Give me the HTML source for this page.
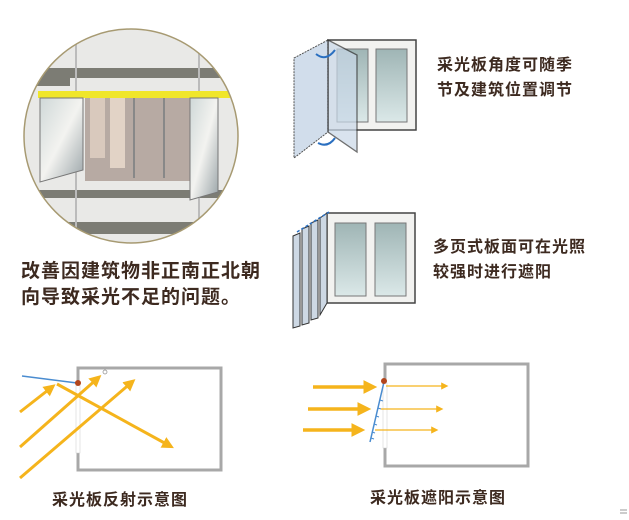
<!DOCTYPE html>
<html><head><meta charset="utf-8"><style>
body{margin:0;width:629px;height:520px;background:#fff;overflow:hidden;position:relative;font-family:"Liberation Sans","Noto Sans CJK SC",sans-serif}
.t{position:absolute;color:#3d2a20;white-space:nowrap;font-weight:bold}
</style></head><body>
<svg width="629" height="520" style="position:absolute;left:0;top:0">
<defs>
<clipPath id="c"><circle cx="131" cy="136" r="107"/></clipPath>
<marker id="ah" markerWidth="4" markerHeight="4" refX="2.5" refY="2" orient="auto" markerUnits="strokeWidth"><path d="M0,0L4,2L0,4z" fill="#f5b41c"/></marker>
<marker id="ah2" markerWidth="6" markerHeight="6" refX="4" refY="3" orient="auto" markerUnits="strokeWidth"><path d="M0,0L6,3L0,6z" fill="#f5b41c"/></marker>
<linearGradient id="g" x1="0" y1="0" x2="1" y2="1"><stop offset="0" stop-color="#cfd8d8"/><stop offset=".5" stop-color="#f3f3f0"/><stop offset="1" stop-color="#9aa4a8"/></linearGradient>
<linearGradient id="gl" x1="0" y1="0" x2="0" y2="1"><stop offset="0" stop-color="#9fb5b5"/><stop offset="1" stop-color="#dbe8e8"/></linearGradient>
</defs>
<g clip-path="url(#c)">
<rect x="20" y="25" width="230" height="225" fill="#e9e9e7"/>
<rect x="20" y="68" width="230" height="10" fill="#7c7c74"/>
<rect x="20" y="78" width="50" height="8" fill="#7c7c74"/>
<rect x="20" y="190" width="230" height="8" fill="#7c7c74"/>
<rect x="20" y="222" width="230" height="12" fill="#7c7c74"/>
<rect x="75" y="25" width="2" height="225" fill="#bbb"/>
<rect x="198" y="25" width="2" height="225" fill="#bbb"/>
<rect x="85" y="96" width="105" height="85" fill="#b7aaa3"/>
<rect x="90" y="98" width="15" height="60" fill="#d9c9bd"/>
<rect x="110" y="98" width="15" height="70" fill="#e2d3c6"/>
<rect x="133" y="98" width="2" height="80" fill="#888"/>
<rect x="163" y="98" width="2" height="80" fill="#888"/>
<rect x="38" y="91" width="192" height="7" fill="#f0e62a"/>
<polygon points="40,98 83,98 83,170 40,182" fill="url(#g)" stroke="#777"/>
<polygon points="190,98 218,98 218,192 190,200" fill="url(#g)" stroke="#777"/>
</g>
<circle cx="131" cy="136" r="107" fill="none" stroke="#a79a72" stroke-width="1.5"/>
<rect x="328" y="40" width="88" height="90" fill="#f2f2f0" stroke="#444" stroke-width="1.5"/>
<rect x="337" y="49" width="31" height="73" fill="url(#gl)" stroke="#777"/>
<rect x="376" y="49" width="31" height="73" fill="url(#gl)" stroke="#777"/>
<polygon points="294,58 328,40 328,132 294,158" fill="#c9d8e8" opacity=".85" stroke="#333" stroke-dasharray="2,1"/>
<polygon points="328,40 357,55 357,152 328,132" fill="#c9d8e8" opacity=".7" stroke="#333" stroke-width="1.3"/>
<path d="M316,54 Q326,62 335,50" fill="none" stroke="#2a6fc0" stroke-width="2"/>
<path d="M318,143 Q328,148 335,138" fill="none" stroke="#2a6fc0" stroke-width="2"/>
<rect x="327" y="213" width="88" height="90" fill="#f2f2f0" stroke="#444" stroke-width="1.5"/>
<rect x="335" y="223" width="31" height="73" fill="url(#gl)" stroke="#777"/>
<rect x="375" y="223" width="31" height="73" fill="url(#gl)" stroke="#777"/>
<g fill="#cdd8e4" stroke="#333">
<polygon points="293,236 300,233 300,326 293,328"/>
<polygon points="302,229 309,226 309,323 302,325"/>
<polygon points="311,223 318,220 318,318 311,320"/>
<polygon points="320,218 327,213 327,303 320,315"/>
</g>
<path d="M297,232 L329,212" stroke="#2a6fc0" stroke-width="1.5" stroke-dasharray="3,2"/>
<rect x="78" y="368" width="143" height="102" fill="none" stroke="#a8a8a8" stroke-width="3"/>
<rect x="76" y="383" width="4" height="70" fill="#fff" stroke="#ccc" stroke-width=".5"/>
<line x1="22" y1="376" x2="77" y2="383" stroke="#4a8cd0" stroke-width="1.5"/>
<g stroke="#f5b41c" stroke-width="3" fill="none">
<line x1="20" y1="412" x2="52" y2="387" marker-end="url(#ah)"/>
<line x1="20" y1="447" x2="98" y2="378" marker-end="url(#ah)"/>
<line x1="20" y1="478" x2="132" y2="382" marker-end="url(#ah)"/>
<line x1="57" y1="384" x2="170" y2="446" marker-end="url(#ah)"/>
</g>
<circle cx="105" cy="372" r="2" fill="#fff" stroke="#888" stroke-width=".7"/>
<circle cx="78" cy="383" r="3" fill="#b2451c"/>
<rect x="385" y="364" width="143" height="102" fill="none" stroke="#a8a8a8" stroke-width="3"/>
<rect x="383" y="383" width="4" height="65" fill="#fff" stroke="#ccc" stroke-width=".5"/>
<g stroke="#f5b41c" fill="none">
<line x1="313" y1="387" x2="372" y2="387" stroke-width="3.5" marker-end="url(#ah)"/>
<line x1="308" y1="409" x2="366" y2="409" stroke-width="3.5" marker-end="url(#ah)"/>
<line x1="303" y1="430" x2="360" y2="430" stroke-width="3.5" marker-end="url(#ah)"/>
<line x1="386" y1="386" x2="446" y2="386" stroke-width="1.2" marker-end="url(#ah2)"/>
<line x1="381" y1="409" x2="441" y2="409" stroke-width="1.2" marker-end="url(#ah2)"/>
<line x1="375" y1="430" x2="436" y2="430" stroke-width="1.2" marker-end="url(#ah2)"/>
</g>
<line x1="384" y1="382" x2="370" y2="442" stroke="#4a8cd0" stroke-width="1.5"/>
<path d="M380,400l3,1M378,408l3,1M376,416l3,1M374,424l3,1M372,432l3,1M371,438l3,1" stroke="#4a8cd0"/>
<circle cx="384" cy="381" r="3" fill="#b2451c"/>
<path d="M620,510h7M620,513h7" stroke="#999" stroke-width="1"/>
</svg>
<div class="t" style="left:21px;top:259px;font-size:19px;line-height:26px;letter-spacing:1px">改善因建筑物非正南正北朝<br>向导致采光不足的问题。</div>
<div class="t" style="left:437px;top:53px;font-size:16px;line-height:25px;letter-spacing:1px">采光板角度可随季<br>节及建筑位置调节</div>
<div class="t" style="left:433px;top:235px;font-size:16px;line-height:25px;letter-spacing:1px">多页式板面可在光照<br>较强时进行遮阳</div>
<div class="t" style="left:52px;top:486px;font-size:16px;letter-spacing:1px">采光板反射示意图</div>
<div class="t" style="left:370px;top:484px;font-size:16px;letter-spacing:1px">采光板遮阳示意图</div>
</body></html>
